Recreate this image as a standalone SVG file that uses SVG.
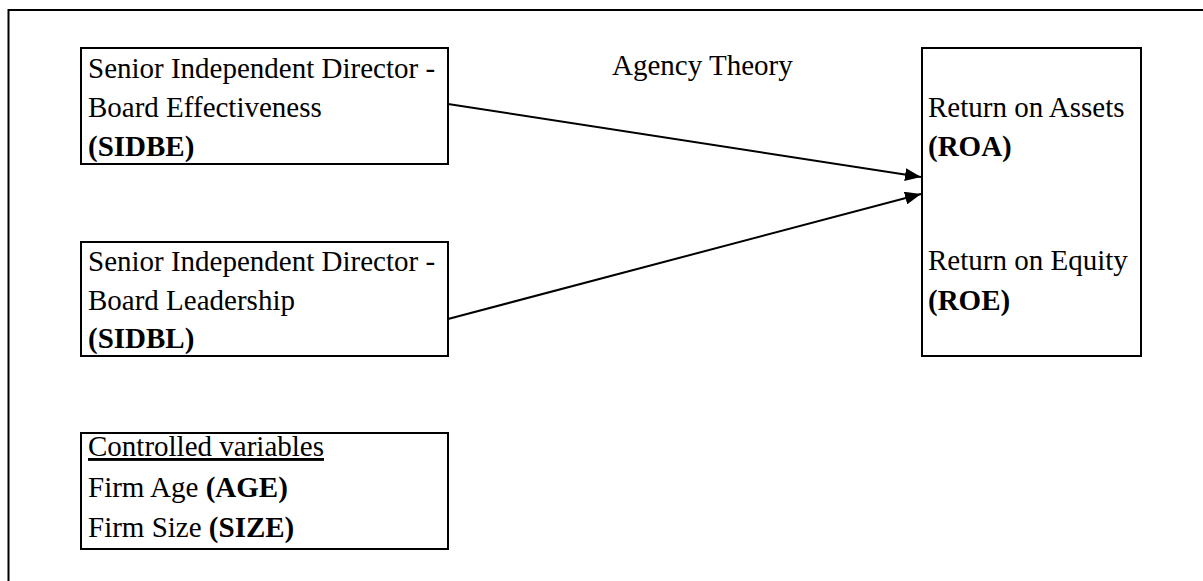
<svg xmlns="http://www.w3.org/2000/svg" width="1203" height="581" viewBox="0 0 1203 581">
<defs>
<style>
.box{fill:#fff;stroke:#000;stroke-width:2}
.t{font-family:'Liberation Serif','Times New Roman','DejaVu Serif',serif;font-size:29px;fill:#000}
.b{font-weight:bold}
.conn{stroke:#000;stroke-width:2;fill:none}
</style>
<marker id="ah" markerWidth="16" markerHeight="13" refX="16" refY="6.5" orient="auto" markerUnits="userSpaceOnUse">
<path d="M0,0 L16,6.5 L0,13 Z" fill="#000"/>
</marker>
</defs>
<rect x="0" y="0" width="1203" height="581" fill="#fff"/>
<rect x="8.5" y="10" width="1210" height="600" fill="none" stroke="#000" stroke-width="2"/>
<g id="sidbe">
<rect class="box" x="81" y="48" width="367" height="116"/>
<text class="t" font-family="Liberation Serif, serif" x="88" y="78">Senior Independent Director -</text>
<text class="t" font-family="Liberation Serif, serif" x="88" y="117">Board Effectiveness</text>
<text class="t b" font-family="Liberation Serif, serif" x="88" y="156">(SIDBE)</text>
</g>
<g id="sidbl">
<rect class="box" x="81" y="242" width="367" height="114"/>
<text class="t" font-family="Liberation Serif, serif" x="88" y="271">Senior Independent Director -</text>
<text class="t" font-family="Liberation Serif, serif" x="88" y="310">Board Leadership</text>
<text class="t b" font-family="Liberation Serif, serif" x="88" y="348">(SIDBL)</text>
</g>
<g id="controls">
<rect class="box" x="81" y="433" width="367" height="116"/>
<text class="t" font-family="Liberation Serif, serif" x="88" y="456" text-decoration="underline">Controlled variables</text>
<text class="t" font-family="Liberation Serif, serif" x="88" y="497">Firm Age <tspan class="b">(AGE)</tspan></text>
<text class="t" font-family="Liberation Serif, serif" x="88" y="537">Firm Size <tspan class="b">(SIZE)</tspan></text>
</g>
<g id="outcomes">
<rect class="box" x="922" y="48" width="219" height="308"/>
<text class="t" font-family="Liberation Serif, serif" x="928" y="117">Return on Assets</text>
<text class="t b" font-family="Liberation Serif, serif" x="928" y="156">(ROA)</text>
<text class="t" font-family="Liberation Serif, serif" x="928" y="270">Return on Equity</text>
<text class="t b" font-family="Liberation Serif, serif" x="928" y="310">(ROE)</text>
</g>
<g id="theory">
<text class="t" font-family="Liberation Serif, serif" x="612" y="75">Agency Theory</text>
</g>
<g id="connectors">
<line class="conn" x1="448" y1="104" x2="921" y2="177" marker-end="url(#ah)"/>
<line class="conn" x1="448" y1="319" x2="921" y2="194" marker-end="url(#ah)"/>
</g>
</svg>
